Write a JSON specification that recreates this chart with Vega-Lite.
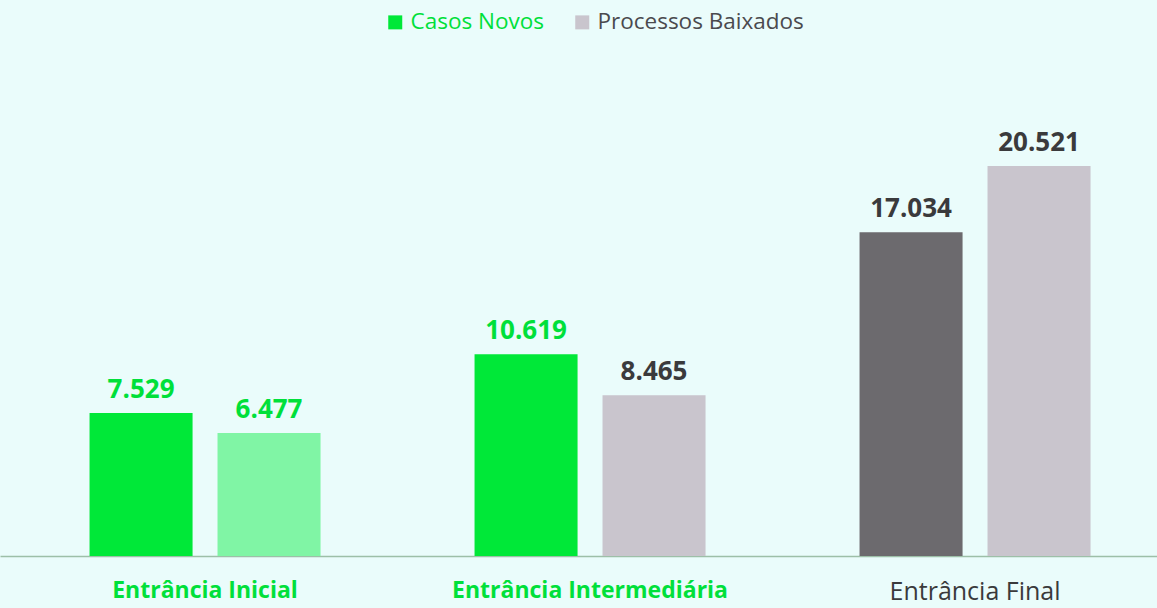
{
  "$schema": "https://vega.github.io/schema/vega-lite/v6.json",
  "width": 1157,
  "height": 556,
  "autosize": {"type": "none"},
  "padding": {"left": 0, "top": 0, "right": 0, "bottom": 52},
  "background": "#eafcfb",
  "config": {
    "view": {"stroke": null},
    "font": "Open Sans",
    "locale": {"number": {"decimal": ",", "thousands": ".", "grouping": [3], "currency": ["R$", ""]}}
  },
  "data": {
    "values": [
      {"cat": "Entrância Inicial", "serie": "Casos Novos", "valor": 7529},
      {"cat": "Entrância Inicial", "serie": "Processos Baixados", "valor": 6477},
      {"cat": "Entrância Intermediária", "serie": "Casos Novos", "valor": 10619},
      {"cat": "Entrância Intermediária", "serie": "Processos Baixados", "valor": 8465},
      {"cat": "Entrância Final", "serie": "Casos Novos", "valor": 17034},
      {"cat": "Entrância Final", "serie": "Processos Baixados", "valor": 20521}
    ]
  },
  "encoding": {
    "x": {
      "field": "cat", "type": "nominal", "sort": null,
      "scale": {"paddingInner": 0.4, "paddingOuter": 0.2026, "align": 0.574},
      "axis": {
        "title": null, "labelAngle": 0, "ticks": false, "labelPadding": 23, "labelLimit": 0,
        "labelFontSize": {"condition": {"test": "datum.value == 'Entrância Final'", "value": 25}, "value": 23},
        "labelFont": "Open Sans",
        "labelFontWeight": {"condition": {"test": "datum.value == 'Entrância Final'", "value": "normal"}, "value": "bold"},
        "labelColor": {"condition": {"test": "datum.value == 'Entrância Final'", "value": "#3a3a3c"}, "value": "#00e03a"},
        "domainColor": "#9dbfa8", "domainWidth": 1.5
      }
    },
    "xOffset": {"field": "serie", "type": "nominal", "scale": {"paddingInner": 0.195, "paddingOuter": 0}},
    "y": {
      "field": "valor", "type": "quantitative",
      "scale": {"domain": [0, 29263], "nice": false},
      "axis": null
    }
  },
  "layer": [
    {
      "mark": {"type": "bar"},
      "encoding": {
        "color": {
          "condition": [
            {"test": "datum.cat == 'Entrância Final' && datum.serie == 'Casos Novos'", "value": "#6c6a6e"},
            {"test": "datum.cat == 'Entrância Inicial' && datum.serie == 'Processos Baixados'", "value": "#80f5a5"}
          ],
          "field": "serie", "type": "nominal",
          "scale": {"domain": ["Casos Novos", "Processos Baixados"], "range": ["#00e838", "#c9c5cd"]},
          "legend": {
            "title": null, "orient": "none", "direction": "horizontal",
            "legendX": 384, "legendY": 11,
            "symbolType": "square", "symbolSize": 196, "symbolStrokeWidth": 0,
            "labelFontSize": 22.5, "labelFont": "Open Sans", "columnPadding": 27, "labelLimit": 0,
            "labelColor": {"expr": "datum.label == 'Casos Novos' ? '#00e03a' : '#4a4a4e'"}
          }
        }
      }
    },
    {
      "mark": {"type": "text", "baseline": "alphabetic", "dy": -15, "fontSize": 26, "fontWeight": "bold", "font": "Open Sans"},
      "encoding": {
        "text": {"field": "valor", "type": "quantitative", "format": ",d"},
        "color": {
          "condition": {"test": "datum.cat == 'Entrância Inicial' || (datum.cat == 'Entrância Intermediária' && datum.serie == 'Casos Novos')", "value": "#00e03a"},
          "value": "#3a3a3c"
        }
      }
    }
  ]
}
